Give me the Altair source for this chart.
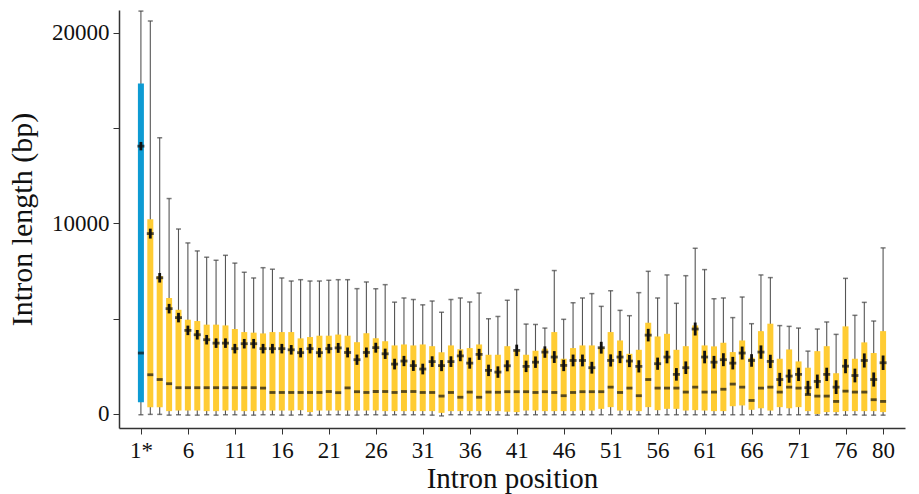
import altair as alt
import pandas as pd

positions = list(range(1, 81))

whisker_max = [21150, 20630, 14500, 11310, 9710, 8980, 8560, 8230, 8070, 8330,
               7920, 7440, 7140, 7680, 7600, 7140, 6980, 7050, 6980, 6980,
               7020, 7050, 7050, 6580, 6930, 6580, 6790, 5870, 6090, 6010,
               5730, 5930, 5340, 6010, 6090, 5880, 6350, 5000, 5120, 5970,
               6530, 4720, 4700, 4510, 7530, 4970, 5840, 6090, 6320, 5650,
               6470, 5440, 5160, 6370, 7490, 6090, 7300, 5810, 7260, 8700,
               7580, 6050, 6090, 5060, 6140, 4740, 7300, 7160, 4640, 4600,
               4510, 3300, 4460, 4830, 4180, 7120, 5180, 5860, 4880, 8720]

q3 = [17350, 10220, 7250, 6090, 5470, 4950, 4880, 4690, 4690, 4650,
      4460, 4300, 4270, 4230, 4300, 4300, 4300, 3970, 4040, 4110,
      4110, 4170, 4110, 3770, 4240, 3970, 3820, 3600, 3650, 3600,
      3650, 3560, 3240, 3600, 3400, 3460, 3650, 3110, 3110, 3560,
      3350, 3110, 3320, 3430, 4300, 2900, 3460, 3600, 3600, 3500,
      4300, 3860, 3160, 3370, 4790, 4070, 4210, 3370, 3560, 4650,
      3600, 3550, 3740, 3250, 3860, 2950, 4350, 4740, 2900, 3390,
      2760, 2430, 3300, 3560, 2140, 4600, 2900, 3760, 3200, 4350]

mean = [14060, 9470, 7150, 5530, 5060, 4390, 4160, 3900, 3720, 3720,
        3430, 3690, 3690, 3430, 3430, 3430, 3370, 3220, 3430, 3220,
        3430, 3470, 3230, 2850, 3230, 3480, 3160, 2620, 2780, 2540,
        2360, 2750, 2540, 2750, 3050, 2670, 3130, 2290, 2200, 2530,
        3340, 2500, 2720, 3250, 2990, 2550, 2810, 2810, 2430, 3480,
        2810, 2990, 2780, 2500, 4140, 2640, 2990, 2080, 2430, 4460,
        2990, 2720, 2850, 2670, 3200, 2810, 3250, 2760, 1810, 1990,
        2080, 1380, 1710, 2080, 1410, 2510, 2020, 2810, 1810, 2690]

mean_se = [220, 260, 250, 250, 250, 250, 250, 250, 250, 250,
           250, 250, 250, 250, 250, 250, 250, 250, 250, 250,
           250, 260, 260, 270, 260, 260, 270, 280, 270, 280,
           280, 280, 290, 280, 280, 290, 290, 300, 300, 290,
           300, 300, 300, 300, 310, 300, 310, 310, 310, 310,
           320, 320, 320, 320, 330, 320, 330, 330, 330, 340,
           330, 330, 340, 330, 340, 330, 350, 350, 350, 350,
           350, 360, 360, 350, 360, 370, 360, 370, 370, 380]

median = [3200, 2060, 1810, 1590, 1380, 1380, 1380, 1380, 1380, 1380,
          1380, 1380, 1380, 1360, 1130, 1130, 1130, 1130, 1130, 1130,
          1180, 1120, 1370, 1170, 1130, 1180, 1180, 1130, 1180, 1180,
          1130, 1130, 940, 1130, 880, 1150, 880, 1150, 1140, 1170,
          1170, 1170, 1130, 1170, 1130, 960, 1130, 1170, 1170, 1170,
          1410, 1130, 1360, 960, 1810, 1360, 1360, 1360, 1150, 1410,
          1150, 1150, 1300, 1570, 1410, 710, 1360, 1410, 1150, 1410,
          1360, 1020, 940, 940, 660, 1200, 1150, 1150, 750, 660]

q1 = [620, 360, 360, 150, 180, 180, 180, 150, 150, 180,
      180, 150, 150, 180, 180, 180, 180, 200, 100, 180,
      180, 180, 180, 180, 180, 180, 150, 150, 150, 150,
      150, 150, 60, 150, 150, 150, 150, 150, 150, 120,
      100, 180, 180, 150, 150, 150, 150, 180, 180, 270,
      360, 180, 180, 150, 360, 200, 270, 270, 180, 200,
      180, 150, 150, 410, 450, 220, 300, 180, 360, 300,
      360, 150, 0, 100, 100, 150, 150, 150, 150, 100]

whisker_min = [-40, -20, -20, -60, -40, -60, -60, -40, -60, -40,
               -40, -60, -60, -40, -40, -60, -60, -40, -60, -60,
               -40, -40, -60, -60, -40, -40, -60, -40, -40, -40,
               -40, -60, -100, -40, -40, -40, -40, -40, -40, -60,
               -40, -40, -40, -40, -40, -40, -40, -40, -40, -40,
               -40, -40, -40, -40, -40, -40, -40, -40, -40, -40,
               -40, -40, -40, -40, -40, -40, -40, -40, -40, -40,
               -40, -40, -60, -40, -40, -60, -40, -60, -60, -60]

group = ["first"] + ["other"] * 79

x_ticks = [1, 6, 11, 16, 21, 26, 31, 36, 41, 46, 51, 56, 61, 66, 71, 76, 80]
y_ticks = [0, 5000, 10000, 15000, 20000]

df = pd.DataFrame({
    "pos": positions,
    "wmax": whisker_max,
    "wmin": whisker_min,
    "q3": q3,
    "q1": q1,
    "median": median,
    "mean": mean,
    "se": mean_se,
    "group": group,
})

FONT = "Liberation Serif"

xscale = alt.Scale(domain=[-0.8, 81.8], nice=False, zero=False)
yscale = alt.Scale(domain=[-735, 21207], nice=False, zero=False)

xaxis = alt.Axis(
    values=x_ticks,
    labelExpr="datum.value == 1 ? '1*' : datum.value",
    title="Intron position",
    grid=False,
    tickSize=6,
    tickColor="#333",
    domainColor="#333",
    domainWidth=1.5,
    labelFont=FONT,
    labelFontSize=23,
    labelColor="#111",
    labelPadding=5,
    labelFlush=False,
    labelOverlap=False,
    titleFont=FONT,
    titleFontSize=29,
    titleFontWeight="normal",
    titleColor="#111",
    titlePadding=2,
)

yaxis = alt.Axis(
    values=y_ticks,
    labelExpr="datum.value % 10000 == 0 ? datum.value : ''",
    format="d",
    title="Intron length (bp)",
    grid=False,
    tickSize=6,
    tickColor="#333",
    domainColor="#333",
    domainWidth=1.5,
    labelFont=FONT,
    labelFontSize=23,
    labelColor="#111",
    labelPadding=4,
    labelFlush=False,
    titleFont=FONT,
    titleFontSize=30,
    titleFontWeight="normal",
    titleColor="#111",
    titlePadding=14,
)

base = alt.Chart(df)
x = alt.X("pos:Q", scale=xscale, axis=xaxis)

whisker = base.mark_rule(color="#555555", strokeWidth=1.1, clip=True).encode(
    x=x,
    y=alt.Y("wmin:Q", scale=yscale, axis=yaxis),
    y2="wmax:Q",
)

cap_top = base.mark_tick(orient="horizontal", size=5, thickness=1.5, color="#444", clip=True).encode(
    x="pos:Q", y="wmax:Q"
)
cap_bot = base.mark_tick(orient="horizontal", size=5, thickness=1.5, color="#444").encode(
    x="pos:Q", y="wmin:Q"
)

box = base.mark_bar(size=6).encode(
    x="pos:Q",
    y="q1:Q",
    y2="q3:Q",
    color=alt.Color("group:N",
                    scale=alt.Scale(domain=["first", "other"], range=["#0E9BD3", "#FFCC33"]),
                    legend=None),
)

med = base.mark_tick(orient="horizontal", size=6, thickness=2.8, color="#111").encode(
    x="pos:Q", y="median:Q"
)

mean_tick = base.mark_tick(orient="horizontal", size=7, thickness=2.8, color="#111").encode(
    x="pos:Q", y="mean:Q"
)

mean_err = base.transform_calculate(
    lo="datum.mean - datum.se", hi="datum.mean + datum.se"
).mark_rule(color="#111", strokeWidth=2.8).encode(
    x="pos:Q", y="lo:Q", y2="hi:Q"
)

chart = alt.layer(whisker, cap_top, cap_bot, box, med, mean_err, mean_tick).properties(
    width=786,
    height=418,
    padding={"left": 119, "top": 10, "right": 14, "bottom": 66},
    autosize=alt.AutoSizeParams(type="none"),
    background="white",
).configure_view(stroke=None, strokeWidth=0)

chart.save("out.html", embed_options={"renderer": "svg", "actions": False})
